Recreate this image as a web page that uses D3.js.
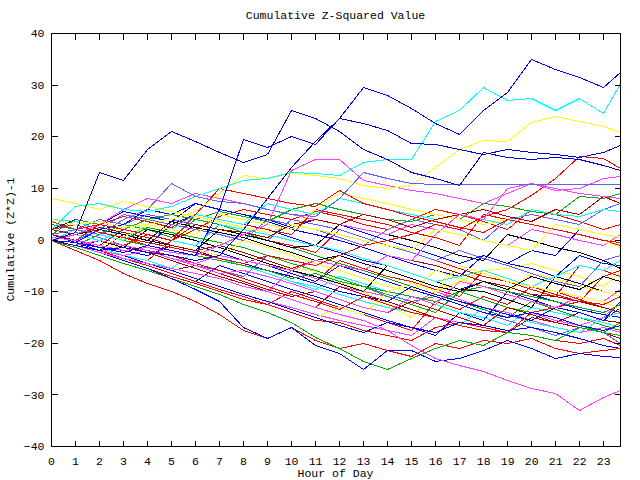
<!DOCTYPE html>
<html>
<head>
<meta charset="utf-8">
<script src="https://cdn.jsdelivr.net/npm/d3@7"></script>
<style>
body { margin: 0; background: #fff; }
svg text { font-family: "Liberation Mono", "DejaVu Sans Mono", monospace; font-size: 11.5px; fill: #000; }
</style>
</head>
<body>
<svg id="chart" width="640" height="480"></svg>
<script>
// sample hours shared by every series (last point is the end of the day)
var hours = [0,1,2,3,4,5,6,7,8,9,10,11,12,13,14,15,16,17,18,19,20,21,22,23,23.7];
var xTickValues = d3.range(0, 24);
var yTickValues = [-40,-30,-20,-10,0,10,20,30,40];

// bulk of the walks
var n01 = [1,0,-1.5,-3,-4, 0,-1,-2.5,-4,-5, -6.5,-8,-4,-5.5,-7, -8,-9.5,-11,-6,-7.5, -9,-10,-11.5,-13,-14];
var n02 = [0,2,1,3,2, 0.5,4,3,1.5,0, -1.5,-3,-4.5,-6,-7.5, -9,-10.5,-12,-13.5,-15, -12,-13.5,-15,-16.5,-17.5];
var n03 = [1,-0.5,-2,-3.5,-5, -6.5,-8,-5,-6.5,-8, -9.5,-11,-12.5,-14,-15.5, -17,-18.5,-14,-15.5,-10, -11.5,-13,-14,-15.5,-13];
var n04 = [0,-1,-2.5,-1,-2.5, -4,-5.5,-7,-8.5,-10, -6,-7.5,-9,-10,-11, -12.5,-10,-11.5,-13,-14, -15.5,-17,-18,-17,-18];
var n05 = [4,3.5,2,1,0, -1,-2,-3.5,-5,-6.5, -8,-9.5,-7,-8.5,-10, -11,-12.5,-14,-15,-16.5, -13,-14,-15,-16,-17];
var n06 = [0,-1,-2,-1,-2, -3,-4,-3,-4,-5, -5.5,-6,-8,-10,-12.5, -15,-10,-8,-6,-5.5, -4.5,-6,-7,-9,-6.2];
var n07 = [2,1,0,-1,-2.5, -4,-5.5,-7,-8.5,-10, -11.5,-13,-9,-10.5,-12, -13.5,-15,-16,-17,-18, -15,-16,-17,-18,-19];
var n08 = [0,1.5,0.5,-1,-2, -3.5,-5,-6,-7,-3, -4.5,-6,-7.5,-9,-10.5, -12,-11,-12.5,-14,-15.5, -17,-18.5,-17,-18,-20];
var n09 = [0,-1,-2,-3.5,-5, -6.5,-8,-9.5,-11,-12.5, -10,-11.5,-13,-14.5,-16, -17.5,-12,-13.5,-11,-12.5, -9,-10.5,-12,-7,-6];
var n10 = [3,2,1,0,-1, 3,5,4,3,2, 0.5,-1,-2.5,-4,-5, -6.5,-8,-9.5,-8,-9, -10.5,-12,-13.5,-14.5,-15];
var n11 = [0,-1.5,0,-1.5,2, 1,0,-1.5,-3,-4.5, -6,-7,-8.5,-10,-5, -6.5,-8,-9.5,-10,-11.5, -13,-7,-8.5,-10,-11];
var n12 = [1,0,-1,0.5,-1, -2,-3,-1,1,0, -1,-2.5,2,0.5,-1, -2.5,-4,-5.5,-7,-8, -9.5,-11,-5,-6,-7];
var n13 = [0,-1,1,0,2.5, 1.5,0.5,-0.5,-1.5,-3, -4.5,-6,-7.5,-9,-11, -12.5,-14,-10,-11.5,-13, -14,-15,-16.5,-18,-16];
var n14 = [2,4,3,5.5,4.5, 3.5,7,6,5,3.5, 2,1,0,-1.5,-3, -4.5,-6,-7,-3,-4.5, -5.5,-7,-3,-4.5,-5];
var n15 = [0,-1,-2,-3,-4.5, -6,-7.5,-9,-10.5,-12, -13,-14.5,-15.5,-16.5,-17.5, -18.5,-15,-16,-17,-18, -14,-15.5,-16.5,-15,-12];
var n16 = [1,0,-1.5,-3,-4, -5.5,-2,-3.5,-5,-6.5, -8,-9,-10.5,-12,-13, -14,-15,-16.5,-13,-14.5, -16,-17,-18,-15,-14];
var n17 = [0,1,2.5,1.5,0.5, -1,-2,-3,0,-1.5, -3,-4.5,-6,-7.5,-9, -10,-6,-7.5,-9,-10, -6.5,-7.5,-9,-10,-11];
var n18 = [0,-1,-2,-3,-4.5, -6,-5,-6.5,-8,-9.5, -11,-10,-11.5,-13,-14, -12,-13.5,-15,-16.5,-13, -14.5,-16,-14,-15.5,-16];
var n19 = [1,2,4,3,5, 4,3,2,1,0, 4,3,2,0.5,-1, -2.5,-4,-2,-3.5,-5, -6.5,-8,-9,-4,-3];
var n20 = [0,1,0,-1,1, 0,2,4.5,6,5, 4,5.5,4.5,3,2, 4,6,5,3.5,2, 6,5,3.5,2,3];
var n21 = [1,0,-1.5,-2,-3, -1,-2,-3.5,-4.5,-6, -7,-8.5,-10,-11,-12, -9,-10.5,-12,-13,-14.5, -15.5,-13,-14,-15.5,-12];
var n22 = [0,-1,-2,1,0, -1,-2,2,1,0, -1.5,-1,3,2,1, 0,-1.5,-3,-4,1, 0,-1.5,-2.5,-4,-5.5];
var n23 = [0,-1,-2.5,-4,-5.5, -7,-8.5,-10,-11.5,-12.5, -14,-15.5,-16,-17.5,-18.5, -19.5,-17,-16,-17,-18, -14,-13,-12,-12.5,-11];
var n24 = [3,2,1,0,-1, -2,-3,-4,-5,-6, -7.5,-6.5,-8,-9,-10, -11,-12,-10,-9,-10, -11,-12,-13,-14,-12.5];
var n25 = [0,2,3,2,1, 0,-1,-2.5,-4,-5, -6.5,-8,-5,-6.5,-8, -9.5,-11,-12.5,-14,-15, -14,-15,-16.5,-17.5,-16.5];
var n26 = [0,-1,0,-1,-2, -3.5,-5,-6.5,-6,-7, -8.5,-10,-11.5,-13,-14, -11,-12.5,-8,-9,-10.5, -12,-13,-11,-12,-9.5];
var n27 = [2,1,0,2,1, 0,-1,3,2,1, 0,-1,-2,-3.5,-5, -6.5,-8,-7,-6,-7.5, -9,-7,-5,-6,-4];
var n28 = [0,-1,-2,-3,-4.5, -6,-7.5,-9,-10.5,-12, -13.5,-15,-13,-14.5,-10, -8.5,-10,-5,-6.5,-8, -9,-10,-11,-12,-13.5];
var n29 = [2,1,2.5,1.5,0.5, -1,-2,-1,-2.5,-4, -5.5,-4,-5,-6,-3, -4,-5,-6.5,-8,-9, -10.5,-11,-12,-13,-14];
var n30 = [1,0,2,5,4, 3,2,1,0,4, 3,2,0.5,-1,2, 4,3,2,0,4, 5,4,3,6,7];
var n31 = [0,-1,-2,-3,-2, -3,-4.5,-6,-7.5,-9, -10.5,-12,-13.5,-11,-12.5, -14,-15,-16.5,-17.5,-18, -18.5,-19.5,-20,-19,-20.5];
var n32 = [0,-0.5,2,3,6, 5,7,6,5,4, 2.5,4,3,1.5,0, -1.5,-3,-4.5,-3,-4.5, -2,-3,2,1,0.5];
var n33 = [0,1,2,1,0, 3.5,2.5,1.5,0.5,-1, -2.5,-4,-3,-4.5,-6, -7.5,-9,-10,-8,-9.5, -7,-8.5,-9.5,-7,-8];
var n34 = [1,0,3,4.5,3.5, 2.5,5,4,3,2, 1,6,5,4,3, 1.5,0.5,-1,5,4, 3,2,1,0,-1];
var n35 = [1,4,3,2,4, 5,4,5.5,4.5,3.5, 6,7,6,5,4, 3.5,5,4,7,6.5, 5.5,5,8.5,8,9];
var n36 = [0,-1,-2,-3,-4.5, -6,-7.5,-9,-10.5,-12, -13.5,-15,-16.5,-18,-16, -17,-18,-16,-16.5,-17.5, -17,-18,-19,-20.5,-21];
var n37 = [0,1,3,6,8, 7,9,8,7,6, 5,4,3,2,1, 3,2,1,0,-1, 2,1,0,-1,1];
var n38 = [0,2,1,0,3, 2,5,4,3,7, 6,5,8,7,6, 5,4,5,4,3, 6,5,4.5,6,5.5];
var n39 = [1,0,-1,0.5,3, 2,1,5,4,3, 2,6,9,8,7, 6,5,4,3,4, 3,2,1,0,-1.5];
var n40 = [1,0,-1,2,1, 0,3,2,1.5,0.5, 3,4,3,5,4, 2.5,4,5,6,4.5, 3.5,6,5,8.5,7];

// walks that stand out
var blueTop = [0,-0.5,-1.5,-2.5,-1, -2,-3,6,19.5,18, 20,18.5,23.5,29.5,28, 25.5,22.5,20.5,25,28.6, 35,33,31.5,29.5,32.5];
var blueEarly = [0,1.5,13,11.5,17.5, 21,19,17,15,16.5, 25,23.5,21,17.5,15.5, 13,12,10.5,17,16, 15.5,16,15.5,14.5,13.5];
var blueMid = [0,-1,-2,-1.5,-2.5, -3,-4,-3,2,8, 14,19,23.5,22.5,21.2, 18.6,18.5,17.5,16.5,17.5, 17,16.5,16,17,18.3];
var cyanTop = [2,6.5,7,6,5.5, 6.5,8.5,10,11.5,12, 13,12.8,12.5,15,15.5, 15.5,23,25,29.5,27, 27.5,25,27.5,24.5,30.3];
var yellowTop = [4,3,3.5,2.5,3, 4,5.5,9,12.5,12, 12.8,12.5,12,10.6,10, 10.5,14,17.5,19.3,19, 22.8,24,23,22,20.8];
var yellowStart = [8,7,6,7.5,6.5, 5.5,4.5,3.5,2.5,1.5, 3,2,1,0,-1, -2,2,1,0,-1, -2,3,2,1,0.5];
var slateFlat = [1,2,1,4,6, 11,8.5,7.5,7,6, 5,4.5,8,13,12, 11,10.7,10.7,10.7,10.7, 10.7,10.7,10.7,10.7,10.7];
var magentaUp = [0.5,0,-1,-2,-1.5, -2.5,-3,-1,1,3, 13.5,15.5,15.5,11.5,10.5, 9.5,9,8,7,9, 11,10,9,8.5,8];
var magentaLate = [0,-1,-2,-3,-2, -3.5,-4.5,-3,-4,-5, -6,-4,-5,-6,-3, -4,1,5,4,10, 11,9.5,10,12,12.3];
var redLate = [2,3,1.5,0.5,-0.5, -1.5,-2.5,-3.5,-4.5,-3, -4,-5,-3,-1,0, 1,3,2,4.5,6, 8.6,12,16.2,15.7,13.8];
var redMid = [3.5,2,3,2,1, 0,5,10,9,8, 7,6.5,9.5,7,6, 4.5,3.5,2.5,1.5,4, 3,2,1,0,-0.5];
var magentaLow = [0,-1,-2.5,-3.5,-4.5, -5.5,-6.5,-7.5,-9,-10, -11.5,-13,-14.5,-15.5,-17.5, -20.5,-23,-24.3,-25.5,-27.2, -28.8,-29.8,-33,-30.5,-29.2];
var blueLow = [0,-1,-2.5,-4,-5.5, -7.5,-9.5,-12,-17,-19, -17,-20.5,-22,-25,-21.5, -21.5,-23.5,-23,-21.5,-19.5, -21,-23,-22,-22.5,-22.7];
var greenLow = [0,-1.5,-3,-4.5,-6, -7.5,-9,-10.5,-12.5,-14, -16,-18.8,-21,-23.5,-25, -23,-21,-19.5,-20.5,-18, -18.5,-19.5,-17,-18,-18.5];
var redLow = [0,-2,-4,-6.5,-8.5, -10,-12,-14.5,-17.5,-19, -17,-19.5,-21,-20,-21.5, -22.5,-20,-21,-19.5,-20, -19,-21,-22,-21.5,-21];

// colour cycle for the bulk: red and blue come up more often, black rarely
var palette = ["#ff0000", "#00b000", "#0000ff", "#ff40ff", "#00ffff", "#ffff00",
               "#b00000", "#6060ff", "#ff0000", "#0000ff", "#000000"];

var bundle = [n01,n02,n03,n04,n05,n06,n07,n08,n09,n10,n11,n12,n13,n14,n15,n16,n17,n18,n19,n20,
              n21,n22,n23,n24,n25,n26,n27,n28,n29,n30,n31,n32,n33,n34,n35,n36,n37,n38,n39,n40];
var series = bundle.map(function (v, i) { return { values: v, color: palette[i % palette.length] }; });
series = series.concat([
    { values: redLow, color: "#ff0000" },
    { values: greenLow, color: "#00b000" },
    { values: blueLow, color: "#0000ff" },
    { values: magentaLow, color: "#ff40ff" },
    { values: redMid, color: "#ff0000" },
    { values: redLate, color: "#ff0000" },
    { values: magentaLate, color: "#ff40ff" },
    { values: magentaUp, color: "#ff40ff" },
    { values: yellowStart, color: "#ffff00" },
    { values: yellowTop, color: "#ffff00" },
    { values: cyanTop, color: "#00ffff" },
    { values: slateFlat, color: "#6060ff" },
    { values: blueMid, color: "#0000d0" },
    { values: blueEarly, color: "#0000d0" },
    { values: blueTop, color: "#0000ff" }
]);

// plot frame in pixels ("top" is taken by window.top, so use plot* names)
var plotLeft = 51, plotRight = 620, plotTop = 33, plotBottom = 446;
var svg = d3.select("#chart");

var x = d3.scaleLinear().domain([0, 23.7]).range([plotLeft, plotRight]);
var y = d3.scaleLinear().domain([-40, 40]).range([plotBottom, plotTop]);

var line = d3.line()
    .x(function (d, i) { return Math.round(x(hours[i])) + 0.5; })
    .y(function (d) { return Math.round(y(d)) + 0.5; });

svg.append("g")
    .selectAll("path")
    .data(series)
  .enter().append("path")
    .attr("d", function (d) { return line(d.values); })
    .attr("fill", "none")
    .attr("stroke", function (d) { return d.color; })
    .attr("stroke-width", 1)
    .attr("shape-rendering", "crispEdges");

// axes with inward ticks on all four sides
function styleAxis(g) {
    g.select(".domain").remove();
    g.selectAll(".tick line").attr("stroke", "#000").attr("shape-rendering", "crispEdges");
    g.attr("font-family", null).attr("font-size", null);
}

svg.append("g")
    .attr("transform", "translate(0," + (plotBottom + 0.5) + ")")
    .call(d3.axisBottom(x).tickValues(xTickValues).tickSize(-6).tickPadding(10).tickFormat(d3.format("d")))
    .call(styleAxis);
svg.append("g")
    .attr("transform", "translate(0," + (plotTop + 0.5) + ")")
    .call(d3.axisTop(x).tickValues(xTickValues).tickSize(-6).tickFormat(""))
    .call(styleAxis);
svg.append("g")
    .attr("transform", "translate(" + (plotLeft + 0.5) + ",0)")
    .call(d3.axisLeft(y).tickValues(yTickValues).tickSize(-6).tickPadding(7).tickFormat(d3.format("d")))
    .call(styleAxis);
svg.append("g")
    .attr("transform", "translate(" + (plotRight + 0.5) + ",0)")
    .call(d3.axisRight(y).tickValues(yTickValues).tickSize(-6).tickFormat(""))
    .call(styleAxis);

svg.append("rect")
    .attr("x", plotLeft + 0.5)
    .attr("y", plotTop + 0.5)
    .attr("width", plotRight - plotLeft)
    .attr("height", plotBottom - plotTop)
    .attr("fill", "none")
    .attr("stroke", "#000")
    .attr("shape-rendering", "crispEdges");

svg.append("text")
    .attr("x", (plotLeft + plotRight) / 2)
    .attr("y", 19)
    .attr("text-anchor", "middle")
    .text("Cumulative Z-Squared Value");

svg.append("text")
    .attr("x", (plotLeft + plotRight) / 2)
    .attr("y", 477)
    .attr("text-anchor", "middle")
    .text("Hour of Day");

svg.append("text")
    .attr("transform", "translate(14," + (plotTop + plotBottom) / 2 + ") rotate(-90)")
    .attr("text-anchor", "middle")
    .text("Cumulative (Z*Z)-1");
</script>
</body>
</html>
